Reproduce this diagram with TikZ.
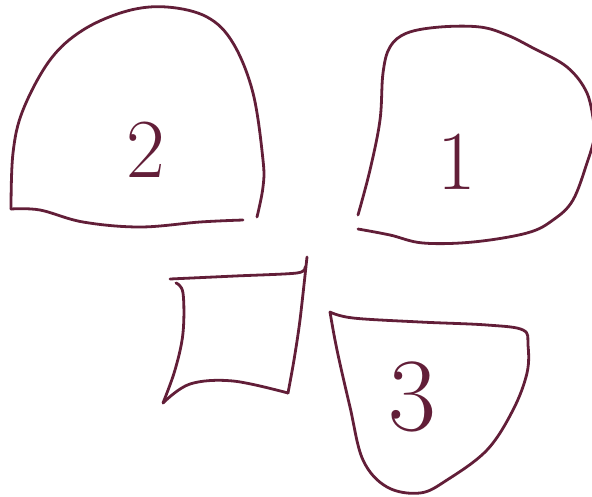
\documentclass[tikz,border=0pt]{standalone}
\usepackage{tikz}
\definecolor{ink}{RGB}{98,30,56}

\begin{document}
\begin{tikzpicture}[x=1pt, y=-1pt,
	pen/.style={draw=ink, line width=2.8pt, line cap=round, line join=round},
	digit/.style={text=ink, font=\fontsize{84}{84}\selectfont, inner sep=0pt}]
	\useasboundingbox (0, 0) rectangle (592, 496);
	% Shapes, labels:
	\draw[pen] plot[smooth, tension=0.6] coordinates {(257, 217) (263, 187) (263, 160) (253, 93) (233, 43) (207, 17) (167, 7) (127, 11) (83, 30) (50, 60) (23, 110) (13, 153) (11, 209)};
	\draw[pen] plot[smooth, tension=0.6] coordinates {(11, 209) (40, 210) (83, 222) (140, 227) (200, 222) (243, 220)};
	\node[digit] (two) at (146, 150) {2};
	\draw[pen] plot[smooth, tension=0.6] coordinates {(358, 215) (370, 170) (380, 120) (383, 73) (390, 47) (407, 33) (440, 27) (480, 27) (507, 35) (533, 48) (567, 67) (587, 93) (594, 125)};
	\draw[pen] plot[smooth, tension=0.6] coordinates {(594, 140) (588, 160) (573, 200) (553, 220) (527, 233) (473, 242) (423, 243) (390, 235) (358, 229)};
	\node[digit] (one) at (457, 162) {1};
	\draw[pen] plot[smooth, tension=0.5] coordinates {(170, 279) (235, 276) (297, 273) (305, 267)};
	\draw[pen] plot[smooth, tension=0.5] coordinates {(307, 257) (300, 320) (294, 360) (288, 393)};
	\draw[pen] plot[smooth, tension=0.6] coordinates {(176, 283) (183, 293) (183, 333) (175, 370) (163, 403)};
	\draw[pen] plot[smooth, tension=0.6] coordinates {(163, 403) (190, 384) (233, 381) (288, 393)};
	\draw[pen] plot[smooth, tension=0.6] coordinates {(330, 312) (353, 318) (420, 322) (487, 325) (523, 330) (528, 345) (527, 373) (513, 410) (487, 450) (447, 480) (420, 493) (387, 487) (363, 460) (350, 407) (337, 350) (330, 312)};
	\node[digit, font=\fontsize{104}{104}\selectfont] (three) at (412, 397) {3};
\end{tikzpicture}
\end{document}
